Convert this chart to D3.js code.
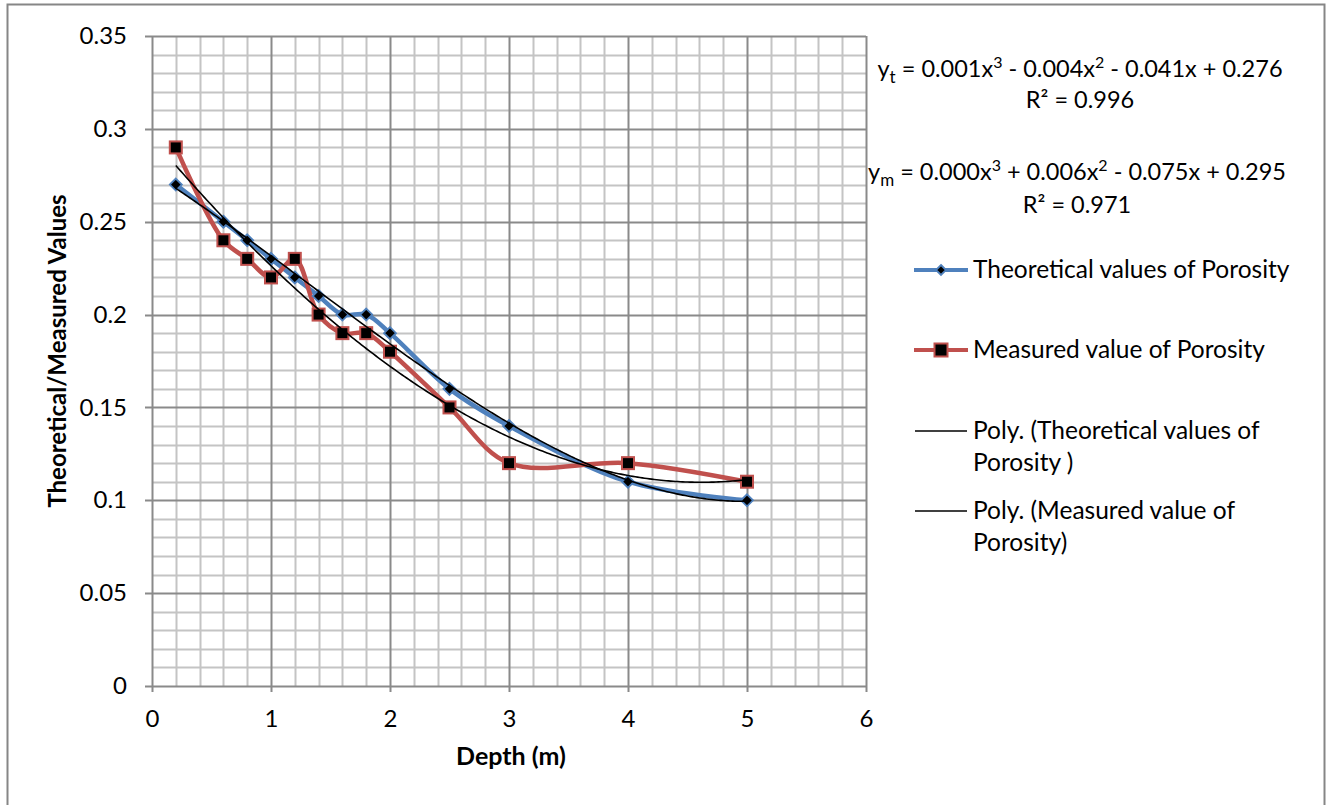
<!DOCTYPE html>
<html>
<head>
<meta charset="utf-8">
<script src="https://cdn.jsdelivr.net/npm/d3@7"></script>
<style>
  html, body { margin: 0; padding: 0; background: #fff; }
  svg { display: block; font-family: Lato, "Open Sans", sans-serif; }
</style>
</head>
<body>
<svg id="chart" width="1331" height="805"></svg>
<script>
// Depth samples (m)
const depths = [0.2, 0.6, 0.8, 1.0, 1.2, 1.4, 1.6, 1.8, 2.0, 2.5, 3, 4, 5];
// Porosity series
const theoretical = [0.27, 0.25, 0.24, 0.23, 0.22, 0.21, 0.20, 0.20, 0.19, 0.16, 0.14, 0.11, 0.10];
const measured    = [0.29, 0.24, 0.23, 0.22, 0.23, 0.20, 0.19, 0.19, 0.18, 0.15, 0.12, 0.12, 0.11];
// Axis ticks
const xTicks = [0, 1, 2, 3, 4, 5, 6];
const yTicks = [0, 0.05, 0.1, 0.15, 0.2, 0.25, 0.3, 0.35];
const yTickLabels = ["0", "0.05", "0.1", "0.15", "0.2", "0.25", "0.3", "0.35"];
// Legend entries
const legendLabels = [
  ["Theoretical values of Porosity"],
  ["Measured value of Porosity"],
  ["Poly. (Theoretical values of", "Porosity )"],
  ["Poly. (Measured value of", "Porosity)"]
];

const svg = d3.select("#chart");
const plot = { left: 152, right: 866, top: 36, bottom: 686 };

const x = d3.scaleLinear().domain([0, 6]).range([plot.left, plot.right]);
const y = d3.scaleLinear().domain([0, 0.35]).range([plot.bottom, plot.top]);

// outer chart frame
svg.append("rect").attr("x", 7.5).attr("y", 4.5).attr("width", 1317).attr("height", 820)
  .attr("fill", "#fff").attr("stroke", "#868686").attr("stroke-width", 2);

// grid: minor first, then major
const minorX = d3.range(0, 6.0001, 0.2).filter(v => Math.abs(v - Math.round(v)) > 1e-6);
const minorY = d3.range(0, 0.35001, 0.01).filter(v => Math.abs(v / 0.05 - Math.round(v / 0.05)) > 1e-6);
const grid = svg.append("g");
grid.selectAll(".mx").data(minorX).join("line")
  .attr("x1", d => Math.round(x(d)) + 0.5).attr("x2", d => Math.round(x(d)) + 0.5)
  .attr("y1", plot.top).attr("y2", plot.bottom)
  .attr("stroke", "#c4c4c4").attr("stroke-width", 2);
grid.selectAll(".my").data(minorY).join("line")
  .attr("y1", d => Math.round(y(d)) + 0.5).attr("y2", d => Math.round(y(d)) + 0.5)
  .attr("x1", plot.left).attr("x2", plot.right)
  .attr("stroke", "#c4c4c4").attr("stroke-width", 2);
grid.selectAll(".Mx").data(xTicks).join("line")
  .attr("x1", d => Math.round(x(d)) + 0.5).attr("x2", d => Math.round(x(d)) + 0.5)
  .attr("y1", plot.top).attr("y2", plot.bottom + 6)
  .attr("stroke", "#8a8a8a").attr("stroke-width", 2);
grid.selectAll(".My").data(yTicks).join("line")
  .attr("y1", d => Math.round(y(d)) + 0.5).attr("y2", d => Math.round(y(d)) + 0.5)
  .attr("x1", plot.left - 7).attr("x2", plot.right)
  .attr("stroke", "#8a8a8a").attr("stroke-width", 2);

// tick labels through d3 axes (domain and tick lines come from the grid above)
const xAxis = svg.append("g").attr("transform", `translate(0,${plot.bottom})`)
  .call(d3.axisBottom(x).tickValues(xTicks).tickSize(0).tickPadding(24).tickFormat(d3.format("d")));
const yAxis = svg.append("g").attr("transform", `translate(${plot.left},0)`)
  .call(d3.axisLeft(y).tickValues(yTicks).tickSize(0).tickPadding(25).tickFormat((d, i) => yTickLabels[i]));
[xAxis, yAxis].forEach(a => {
  a.select(".domain").remove();
  a.attr("font-family", "Lato, 'Open Sans', sans-serif").attr("font-size", 24);
  a.selectAll("text").attr("fill", "#000");
});

// axis titles
svg.append("text").attr("x", 511).attr("y", 765).attr("text-anchor", "middle")
  .attr("font-size", 25).attr("font-weight", "bold").text("Depth (m)");
svg.append("text").attr("transform", "translate(66,351) rotate(-90)").attr("text-anchor", "middle")
  .attr("font-size", 24).attr("font-weight", "bold").text("Theoretical/Measured Values");

// least-squares cubic fit
function polyFit(xs, ys, deg) {
  const n = deg + 1;
  const A = Array.from({ length: n }, () => new Array(n + 1).fill(0));
  xs.forEach((xv, k) => {
    for (let i = 0; i < n; i++) {
      for (let j = 0; j < n; j++) A[i][j] += Math.pow(xv, i + j);
      A[i][n] += ys[k] * Math.pow(xv, i);
    }
  });
  for (let c = 0; c < n; c++) {
    let p = c;
    for (let r = c + 1; r < n; r++) if (Math.abs(A[r][c]) > Math.abs(A[p][c])) p = r;
    [A[c], A[p]] = [A[p], A[c]];
    for (let r = 0; r < n; r++) {
      if (r === c) continue;
      const f = A[r][c] / A[c][c];
      for (let k = c; k <= n; k++) A[r][k] -= f * A[c][k];
    }
  }
  return A.map((row, i) => row[n] / row[i]);
}
const evalPoly = (co, xv) => co.reduce((s, c, i) => s + c * Math.pow(xv, i), 0);

const seriesT = depths.map((d, i) => [d, theoretical[i]]);
const seriesM = depths.map((d, i) => [d, measured[i]]);

const smooth = d3.line().x(d => x(d[0])).y(d => y(d[1])).curve(d3.curveCatmullRom.alpha(0.5));
const straight = d3.line().x(d => x(d[0])).y(d => y(d[1]));

svg.append("path").attr("d", smooth(seriesT)).attr("fill", "none")
  .attr("stroke", "#4f81bd").attr("stroke-width", 4.5).attr("stroke-linejoin", "round").attr("stroke-linecap", "round");
svg.append("path").attr("d", smooth(seriesM)).attr("fill", "none")
  .attr("stroke", "#c0504d").attr("stroke-width", 4.5).attr("stroke-linejoin", "round").attr("stroke-linecap", "round");

// markers
function diamond(g, cx, cy, r) {
  g.append("path").attr("d", `M${cx},${cy - r}L${cx + r},${cy}L${cx},${cy + r}L${cx - r},${cy}Z`)
    .attr("fill", "#000").attr("stroke", "#4f81bd").attr("stroke-width", 1.8);
}
function square(g, cx, cy, s) {
  g.append("rect").attr("x", cx - s / 2).attr("y", cy - s / 2).attr("width", s).attr("height", s)
    .attr("fill", "#000").attr("stroke", "#c0504d").attr("stroke-width", 2);
}
const mk = svg.append("g");
seriesT.forEach(d => diamond(mk, x(d[0]), y(d[1]), 6));
seriesM.forEach(d => square(mk, x(d[0]), y(d[1]), 12));

// polynomial trendlines
const xs = d3.range(0.2, 5.0001, 0.02);
[theoretical, measured].forEach(vals => {
  const co = polyFit(depths, vals, 3);
  svg.append("path").attr("d", straight(xs.map(v => [v, evalPoly(co, v)])))
    .attr("fill", "none").attr("stroke", "#000").attr("stroke-width", 1.6);
});

// trendline equations
const eq = svg.append("g").attr("font-size", 23.5).attr("fill", "#000");
function equation(cx, base, sub, parts, r2, r2base) {
  const t = eq.append("text").attr("x", cx).attr("y", base).attr("text-anchor", "middle");
  t.append("tspan").text("y");
  t.append("tspan").attr("font-size", 17).attr("dy", 6).text(sub);
  t.append("tspan").attr("dy", -6).text(" = " + parts[0] + "x");
  t.append("tspan").attr("font-size", 16).attr("dy", -9).text("3");
  t.append("tspan").attr("dy", 9).text(" " + parts[1] + "x");
  t.append("tspan").attr("font-size", 16).attr("dy", -9).text("2");
  t.append("tspan").attr("dy", 9).text(" " + parts[2]);
  eq.append("text").attr("x", cx).attr("y", r2base).attr("text-anchor", "middle").text("R² = " + r2);
}
equation(1080, 77, "t", ["0.001", "- 0.004", "- 0.041x + 0.276"], "0.996", 108);
equation(1077, 180, "m", ["0.000", "+ 0.006", "- 0.075x + 0.295"], "0.971", 213);

// legend
const lg = svg.append("g");
const legendY = [270, 350, 431, 511];
legendLabels.forEach((lines, i) => {
  const ly = legendY[i];
  if (i === 0) {
    lg.append("line").attr("x1", 914).attr("x2", 968).attr("y1", ly).attr("y2", ly)
      .attr("stroke", "#4f81bd").attr("stroke-width", 4);
    diamond(lg, 941, ly, 5);
  } else if (i === 1) {
    lg.append("line").attr("x1", 914).attr("x2", 968).attr("y1", ly).attr("y2", ly)
      .attr("stroke", "#c0504d").attr("stroke-width", 4);
    square(lg, 941, ly, 13);
  } else {
    lg.append("line").attr("x1", 915).attr("x2", 967).attr("y1", ly).attr("y2", ly)
      .attr("stroke", "#000").attr("stroke-width", 1.6);
  }
  lines.forEach((s, j) => {
    lg.append("text").attr("x", 973).attr("y", ly + 8 + j * 32).attr("font-size", 24.5).text(s);
  });
});
</script>
</body>
</html>
